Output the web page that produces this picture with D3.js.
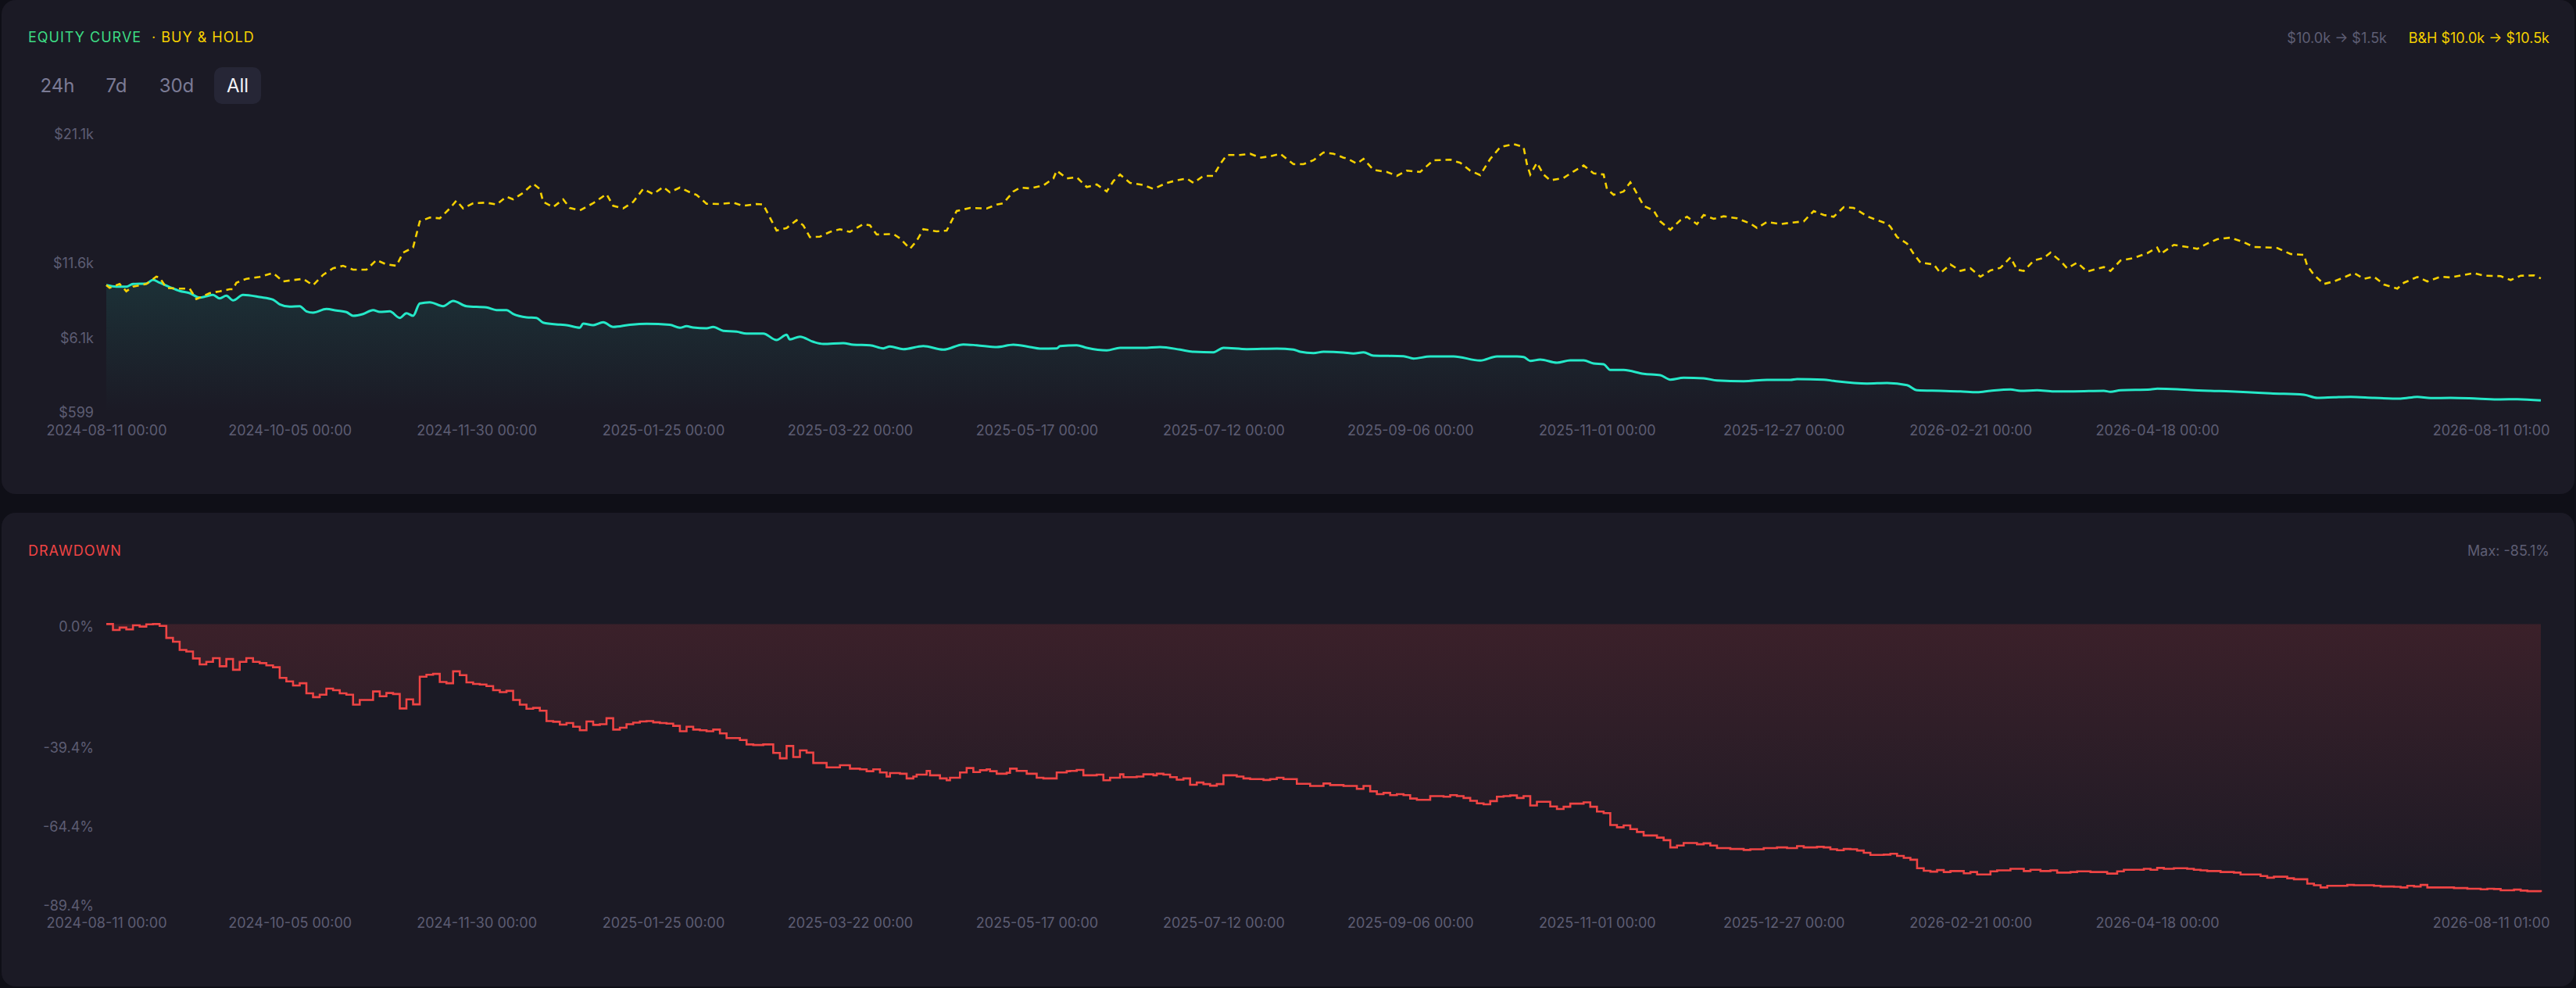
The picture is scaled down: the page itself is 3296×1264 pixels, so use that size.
<!DOCTYPE html>
<html>
<head>
<meta charset="utf-8">
<script src="https://cdn.jsdelivr.net/npm/d3@7"></script>
<style>
html,body{margin:0;padding:0;background:#0f0f17;}
svg{display:block;font-family:Inter,"Noto Sans",sans-serif;}
</style>
</head>
<body>
<svg id="chart" width="3296" height="1264"></svg>
<script>
// ---------- DATA ----------
const startDate = "2024-08-11 00:00";
const endDate = "2026-08-11 01:00";
const xTickLabels = ["2024-08-11 00:00","2024-10-05 00:00","2024-11-30 00:00","2025-01-25 00:00","2025-03-22 00:00","2025-05-17 00:00","2025-07-12 00:00","2025-09-06 00:00","2025-11-01 00:00","2025-12-27 00:00","2026-02-21 00:00","2026-04-18 00:00","2026-08-11 01:00"];
const rangeButtons = ["24h","7d","30d","All"];
const activeRange = "All";
const equityTickValues = [599, 6100, 11600, 21100];
const equityTickLabels = ["$599","$6.1k","$11.6k","$21.1k"];
const drawdownTickValues = [0, -39.4, -64.4, -89.4];
const drawdownTickLabels = ["0.0%","-39.4%","-64.4%","-89.4%"];
const strategyText = "$10.0k → $1.5k";
const buyHoldText = "B&H $10.0k → $10.5k";
const maxDrawdownText = "Max: -85.1%";

// day offsets from start, strategy equity ($)
const equityDays = [0,3,6,8,12,14,16,19,22,25,28,30,32,34,36,38,41,46,50,52,55,58,60,62,66,69,72,74,77,80,82,85,88,90,92,94,97,101,104,108,114,117,120,122,126,129,131,136,138,142,143,146,149,152,157,162,169,172,174,176,180,182,185,189,192,197,201,204,205,208,212,215,221,224,229,233,235,239,245,251,257,261,267,272,277,280,285,286,291,294,300,304,311,316,322,326,332,335,342,351,356,358,362,365,371,374,377,380,389,392,397,404,412,417,423,425,427,430,435,439,443,446,449,451,455,461,466,469,473,479,483,491,498,505,507,515,518,528,534,540,543,550,556,561,565,571,574,579,584,590,599,601,604,613,615,621,625,631,637,642,649,659,663,668,673,680,688,693,697,703,711,718,723,730.04];
const equityValues = [10000,9888,9888,10084,10119,10389,10176,9854,9566,9410,9082,9180,9278,9024,9220,8875,9278,9122,8932,8587,8414,8449,8068,7971,8241,8126,8011,7740,7873,8161,8028,8068,7585,7930,7740,8644,8737,8449,8834,8449,8356,8161,8161,7873,7625,7585,7239,7089,7049,6859,7164,7049,7262,6917,7074,7147,7074,6859,6974,6876,6819,6917,6629,6571,6433,6433,5955,6341,5995,6203,5822,5667,5725,5609,5569,5339,5477,5281,5512,5247,5627,5569,5437,5609,5437,5321,5339,5512,5569,5379,5189,5379,5379,5437,5247,5091,5051,5379,5281,5321,5247,5091,4993,5091,5033,4959,5051,4803,4763,4590,4745,4745,4440,4745,4745,4705,4417,4515,4285,4457,4457,4227,4170,3749,3749,3461,3363,3035,3173,3133,2977,2920,3018,3018,3075,3035,2943,2747,2787,2632,2252,2212,2171,2114,2212,2309,2212,2252,2171,2171,2212,2137,2252,2309,2367,2327,2269,2212,2171,2114,2021,1924,1693,1734,1768,1693,1636,1768,1676,1693,1636,1578,1595,1500];

// day offsets from start, buy & hold ($)
const buyHoldDays = [0,1,4,6,8,12,15,16,18,21,25,27,31,34,37,38,39,42,46,50,53,56,59,62,65,68,71,74,78,81,84,87,89,92,93,94,97,100,103,105,107,110,114,117,120,122,125,128,130,131,134,137,139,142,146,150,152,155,158,161,164,167,169,172,175,177,180,184,188,191,195,197,199,201,204,207,209,211,214,217,220,223,227,229,231,236,238,241,243,245,249,252,255,259,264,267,269,272,274,277,281,284,285,288,291,294,297,300,302,304,307,311,314,318,321,324,326,329,332,334,336,340,343,346,349,352,356,359,362,365,368,371,372,375,377,380,384,387,390,394,398,403,406,409,412,415,418,422,425,426,427,429,431,433,437,440,443,446,449,450,452,455,457,458,461,464,466,469,472,474,477,479,482,485,489,493,495,498,502,505,509,512,515,518,521,524,528,531,534,535,537,540,542,544,548,550,553,556,559,562,565,568,571,573,575,578,581,583,586,588,591,594,599,601,604,608,612,615,616,620,624,627,630,633,637,641,644,649,651,655,659,660,662,665,668,671,674,677,680,683,687,689,693,696,700,703,707,710,713,718,721,724,728,730.04];
const buyHoldValues = [10000,9796,10084,9543,9888,10084,10620,10562,9796,9739,9739,8967,9410,9543,9698,9698,10176,10464,10602,10890,10274,10372,10464,9986,10752,11236,11426,11138,11138,11846,11524,11426,12388,12768,13730,14691,14979,14921,15647,16223,15647,16033,16073,15935,16511,16321,16799,17473,17087,16131,15745,16321,15688,15497,16033,16707,15843,15647,16131,17087,16707,17225,16839,17185,16839,16649,15993,15976,16073,15843,15976,15935,14979,14017,14207,14783,14403,13539,13574,13919,14115,13919,14495,14403,13730,13770,13442,12676,13252,14115,13960,14017,15457,15688,15647,15935,16033,16897,17185,17127,17340,17859,18435,17859,17951,17225,17415,16897,17663,18147,17530,17375,17087,17530,17721,17859,17530,18049,18049,18913,19586,19586,19679,19391,19489,19679,18913,18913,19201,19776,19679,19391,19333,18953,19299,18492,18337,18049,18435,18337,19201,19241,19011,18435,18106,19299,20162,20393,20162,18913,18147,19011,18147,17721,17893,18377,18815,18239,18147,17087,16649,16897,17571,17185,15843,15497,14691,14075,14783,15037,14495,15169,14881,15071,14921,14536,14207,14651,14495,14593,14691,15457,15169,15037,15745,15688,15071,14783,14536,14305,13539,13056,12290,11656,11524,10890,11524,11052,11236,10620,11080,11271,12042,11138,11040,11812,12002,12388,11771,11236,11656,11005,11328,11040,11812,12002,12347,12768,12290,12964,12808,12676,13056,13384,13499,13154,12808,12768,12733,12290,12232,11426,10752,10084,10274,10562,10890,10464,10620,10044,9739,10176,10602,10274,10620,10562,10752,10890,10695,10660,10372,10695,10718,10500];

// [day offset, drawdown %]
const drawdownPoints = [[0,0],[2,-1.9],[4,-1.1],[6,-1.7],[8,-0.4],[10,-0.8],[12,-0.1],[14,0],[16,-0.6],[18,-4.4],
[20,-5.6],[22,-8.2],[24,-8.7],[26,-10.9],[28,-12.8],[30,-12.0],[32,-10.8],[34,-13.4],[36,-11.1],[38,-14.5],
[40,-12.0],[42,-10.8],[44,-12.0],[46,-12.4],[48,-13.1],[50,-13.7],[52,-17.1],[54,-18.2],[56,-19.5],[58,-18.8],
[60,-22.0],[62,-23.2],[64,-22.4],[66,-20.5],[68,-21.0],[70,-22.0],[72,-22.4],[74,-25.6],[76,-24.1],[80,-21.4],
[82,-22.9],[84,-21.9],[86,-22.2],[88,-26.8],[90,-23.9],[92,-25.5],[94,-16.7],[96,-16.1],[98,-15.8],[100,-18.4],
[102,-18.8],[104,-15.0],[106,-16.2],[108,-18.5],[110,-19.0],[112,-19.2],[114,-19.7],[116,-21.0],[118,-21.6],[120,-21.2],
[122,-24.1],[124,-25.6],[126,-26.9],[128,-26.6],[130,-27.5],[132,-30.8],[134,-31.0],[136,-31.9],[138,-31.4],[140,-32.6],
[142,-33.7],[144,-30.9],[146,-32.0],[148,-31.8],[150,-29.9],[152,-33.5],[154,-32.9],[156,-31.8],[158,-31.3],[160,-30.9],
[162,-30.8],[164,-31.2],[166,-31.4],[168,-31.6],[170,-32.3],[172,-34.0],[174,-32.6],[176,-33.5],[178,-33.7],[180,-34.0],
[182,-33.5],[184,-34.7],[186,-36.2],[190,-36.8],[192,-38.2],[194,-38.4],[197,-38.2],[200,-40.9],[202,-42.6],[204,-38.7],
[206,-42.2],[208,-40.1],[210,-40.8],[212,-44.1],[216,-45.5],[220,-44.8],[223,-45.9],[226,-46.1],[228,-46.7],[230,-46.1],
[232,-47.1],[234,-48.4],[235,-47.3],[238,-47.5],[240,-49.0],[242,-48.4],[243,-47.8],[246,-46.6],[247,-48.0],[250,-49.0],
[252,-49.6],[253,-48.8],[256,-47.1],[258,-45.7],[260,-47.0],[262,-46.4],[264,-46.1],[265,-46.7],[267,-47.5],[270,-47.2],
[271,-45.9],[273,-46.6],[276,-47.5],[279,-48.8],[281,-49.0],[285,-47.1],[288,-46.7],[289,-46.6],[291,-46.3],[293,-48.0],
[297,-47.8],[299,-49.6],[301,-48.8],[304,-47.7],[305,-48.6],[309,-48.4],[311,-47.7],[314,-48.0],[315,-47.5],[317,-47.8],
[319,-48.6],[321,-49.4],[323,-49.0],[325,-51.0],[327,-50.3],[329,-50.8],[331,-51.3],[333,-50.8],[335,-48.0],[339,-48.4],
[341,-49.0],[343,-49.2],[347,-49.5],[349,-49.2],[351,-48.8],[353,-49.2],[357,-50.7],[361,-51.4],[365,-50.6],[367,-51.1],
[371,-51.4],[375,-52.3],[377,-51.4],[379,-53.1],[381,-54.0],[383,-53.6],[385,-54.3],[387,-54.0],[389,-54.3],[391,-55.4],
[393,-55.8],[397,-54.6],[401,-54.8],[403,-54.3],[405,-54.6],[407,-55.2],[409,-56.1],[411,-56.9],[413,-57.2],[415,-56.2],
[417,-54.8],[419,-54.6],[421,-54.4],[423,-55.2],[425,-54.6],[427,-57.6],[429,-56.4],[433,-57.9],[435,-58.7],[437,-58.0],
[439,-57.0],[443,-56.6],[445,-58.0],[447,-59.5],[449,-60.0],[451,-63.8],[453,-64.5],[455,-63.9],[457,-65.1],[459,-66.0],
[461,-67.1],[465,-67.8],[467,-68.6],[469,-70.9],[471,-70.3],[473,-69.5],[477,-69.9],[479,-69.6],[481,-70.3],[483,-71.1],
[487,-71.4],[491,-71.7],[493,-71.5],[497,-71.1],[501,-70.9],[504,-71.1],[507,-70.5],[509,-70.9],[513,-70.7],[515,-70.9],
[517,-71.5],[519,-71.8],[521,-71.4],[523,-71.5],[525,-71.9],[527,-72.6],[529,-73.3],[533,-73.2],[535,-72.9],[537,-73.6],
[539,-74.2],[541,-74.8],[543,-77.5],[545,-78.3],[547,-78.6],[549,-78.1],[551,-78.7],[553,-78.4],[557,-79.1],[559,-78.7],
[561,-79.5],[565,-78.5],[567,-78.2],[571,-77.7],[575,-78.4],[577,-78.0],[580,-78.4],[583,-78.2],[585,-78.9],[589,-78.7],
[591,-78.5],[595,-78.7],[600,-79.2],[603,-78.5],[605,-78.0],[611,-77.7],[613,-78.0],[615,-77.4],[617,-77.7],[620,-77.5],
[624,-77.7],[626,-78.0],[628,-78.2],[630,-78.4],[634,-78.7],[638,-78.9],[640,-79.5],[646,-80.0],[648,-80.5],[650,-80.2],
[654,-80.7],[656,-81.0],[660,-82.4],[662,-82.9],[664,-83.6],[666,-83.1],[672,-82.8],[674,-82.9],[680,-83.1],[682,-83.3],
[686,-83.4],[688,-83.6],[690,-83.1],[692,-83.3],[694,-82.8],[696,-83.6],[704,-83.8],[708,-84.0],[712,-84.2],[714,-84.0],
[716,-84.1],[718,-84.5],[722,-84.3],[724,-84.6],[726,-84.8],[730.04,-85.1]];

// ---------- CHART ----------
const W = 3296, H = 1264;
const parse = d3.utcParse("%Y-%m-%d %H:%M");
const fmt = d3.utcFormat("%Y-%m-%d %H:%M");
const t0 = parse(startDate), t1 = parse(endDate);
const dayMs = 864e5;
const toDate = d => new Date(t0.getTime() + d * dayMs);

const equity = equityDays.map((d, i) => ({date: toDate(d), v: equityValues[i]}));
const buyHold = buyHoldDays.map((d, i) => ({date: toDate(d), v: buyHoldValues[i]}));
const drawdown = drawdownPoints.map(p => ({date: toDate(p[0]), v: p[1]}));

const svg = d3.select("#chart");
const defs = svg.append("defs");

const PANEL = "#1b1a25", AXIS_TXT = "#5d5d73", MUTED = "#5e5e74";
const TEAL = "#25e8c8", GOLD = "#f5d000", RED = "#ef4444", GREEN = "#3ddc84";

svg.append("rect").attr("width", W).attr("height", H).attr("fill", "#0f0f17");
svg.append("rect").attr("x", 2).attr("y", 0).attr("width", W - 4).attr("height", 632).attr("rx", 18).attr("fill", PANEL);
svg.append("rect").attr("x", 2).attr("y", 656).attr("width", W - 4).attr("height", 606).attr("rx", 18).attr("fill", PANEL);

const plotL = 136, plotR = 3251;
const x = d3.scaleUtc().domain([t0, t1]).range([plotL, plotR]);

// ----- equity panel -----
const eqBottom = 528, eqTop = 172;
const yEq = d3.scaleLinear().domain([599, 21100]).range([eqBottom, eqTop]);

const gEq = defs.append("linearGradient").attr("id", "eqFill")
  .attr("gradientUnits", "userSpaceOnUse").attr("x1", 0).attr("x2", 0).attr("y1", 360).attr("y2", eqBottom);
gEq.append("stop").attr("offset", 0).attr("stop-color", TEAL).attr("stop-opacity", 0.11);
gEq.append("stop").attr("offset", 1).attr("stop-color", TEAL).attr("stop-opacity", 0.0);

svg.append("path").datum(equity)
  .attr("d", d3.area().x(d => x(d.date)).y0(eqBottom).y1(d => yEq(d.v)).curve(d3.curveMonotoneX))
  .attr("fill", "url(#eqFill)");
svg.append("path").datum(equity)
  .attr("d", d3.line().x(d => x(d.date)).y(d => yEq(d.v)).curve(d3.curveMonotoneX))
  .attr("fill", "none").attr("stroke", TEAL).attr("stroke-width", 3).attr("stroke-linejoin", "round");
svg.append("path").datum(buyHold)
  .attr("d", d3.line().x(d => x(d.date)).y(d => yEq(d.v)))
  .attr("fill", "none").attr("stroke", GOLD).attr("stroke-width", 2.6).attr("stroke-dasharray", "8,6");

function styleAxis(g) {
  g.select(".domain").remove();
  g.selectAll(".tick line").remove();
  g.selectAll("text").attr("fill", AXIS_TXT).attr("font-size", 18)
    .attr("font-family", 'Inter,"Noto Sans",sans-serif');
}

const yAxisEq = svg.append("g").attr("transform", "translate(120,0)")
  .call(d3.axisLeft(yEq).tickValues(equityTickValues).tickSize(0).tickPadding(0)
    .tickFormat((d, i) => equityTickLabels[i]));
styleAxis(yAxisEq);

const xTicks = xTickLabels.map(parse);
function drawXAxis(yPos) {
  const g = svg.append("g").attr("transform", `translate(0,${yPos})`)
    .call(d3.axisBottom(x).tickValues(xTicks).tickSize(0).tickPadding(16).tickFormat(fmt));
  styleAxis(g);
  g.selectAll(".tick").filter(d => +d === +t1).select("text")
    .attr("text-anchor", "end").attr("x", 11);
  return g;
}
drawXAxis(eqBottom);

// header
svg.append("text").attr("x", 36).attr("y", 53.5).attr("fill", GREEN)
  .attr("font-size", 18).attr("letter-spacing", 1).text("EQUITY CURVE");
svg.append("text").attr("x", 194).attr("y", 53.5).attr("fill", GOLD)
  .attr("font-size", 18).attr("letter-spacing", 1).text("· BUY & HOLD");
svg.append("text").attr("x", 3054).attr("y", 54.5).attr("text-anchor", "end")
  .attr("fill", MUTED).attr("font-size", 18).text(strategyText);
svg.append("text").attr("x", 3262).attr("y", 54.5).attr("text-anchor", "end")
  .attr("fill", GOLD).attr("font-size", 18).text(buyHoldText);

// range buttons
const btnCenters = [73.5, 149, 226, 304];
rangeButtons.forEach((b, i) => {
  if (b === activeRange) {
    svg.append("rect").attr("x", btnCenters[i] - 30).attr("y", 86).attr("width", 60).attr("height", 47)
      .attr("rx", 10).attr("fill", "#262636");
  }
  svg.append("text").attr("x", btnCenters[i]).attr("y", 118).attr("text-anchor", "middle")
    .attr("font-size", 24).attr("fill", b === activeRange ? "#f2f2f7" : "#7b7b95").text(b);
});

// ----- drawdown panel -----
const ddTop = 798.4, ddBottom = 1158.7;
const yDd = d3.scaleLinear().domain([-89.4, 0]).range([ddBottom, ddTop]);

const gDd = defs.append("linearGradient").attr("id", "ddFill")
  .attr("gradientUnits", "userSpaceOnUse").attr("x1", 0).attr("x2", 0).attr("y1", ddTop).attr("y2", ddBottom);
gDd.append("stop").attr("offset", 0).attr("stop-color", RED).attr("stop-opacity", 0.15);
gDd.append("stop").attr("offset", 1).attr("stop-color", RED).attr("stop-opacity", 0.0);

svg.append("path").datum(drawdown)
  .attr("d", d3.area().x(d => x(d.date)).y0(yDd(0)).y1(d => yDd(d.v)).curve(d3.curveStepAfter))
  .attr("fill", "url(#ddFill)");
svg.append("path").datum(drawdown)
  .attr("d", d3.line().x(d => x(d.date)).y(d => yDd(d.v)).curve(d3.curveStepAfter))
  .attr("fill", "none").attr("stroke", RED).attr("stroke-width", 2.6);

const yAxisDd = svg.append("g").attr("transform", "translate(120,0)")
  .call(d3.axisLeft(yDd).tickValues(drawdownTickValues).tickSize(0).tickPadding(0)
    .tickFormat((d, i) => drawdownTickLabels[i]));
styleAxis(yAxisDd);
yAxisDd.selectAll(".tick").filter(d => d === 0).select("text").attr("y", 3.4);

drawXAxis(ddBottom - 0.7);

svg.append("text").attr("x", 36).attr("y", 710.5).attr("fill", RED)
  .attr("font-size", 18).attr("letter-spacing", 1).text("DRAWDOWN");
svg.append("text").attr("x", 3262).attr("y", 710.5).attr("text-anchor", "end")
  .attr("fill", MUTED).attr("font-size", 18).text(maxDrawdownText);
</script>
</body>
</html>
